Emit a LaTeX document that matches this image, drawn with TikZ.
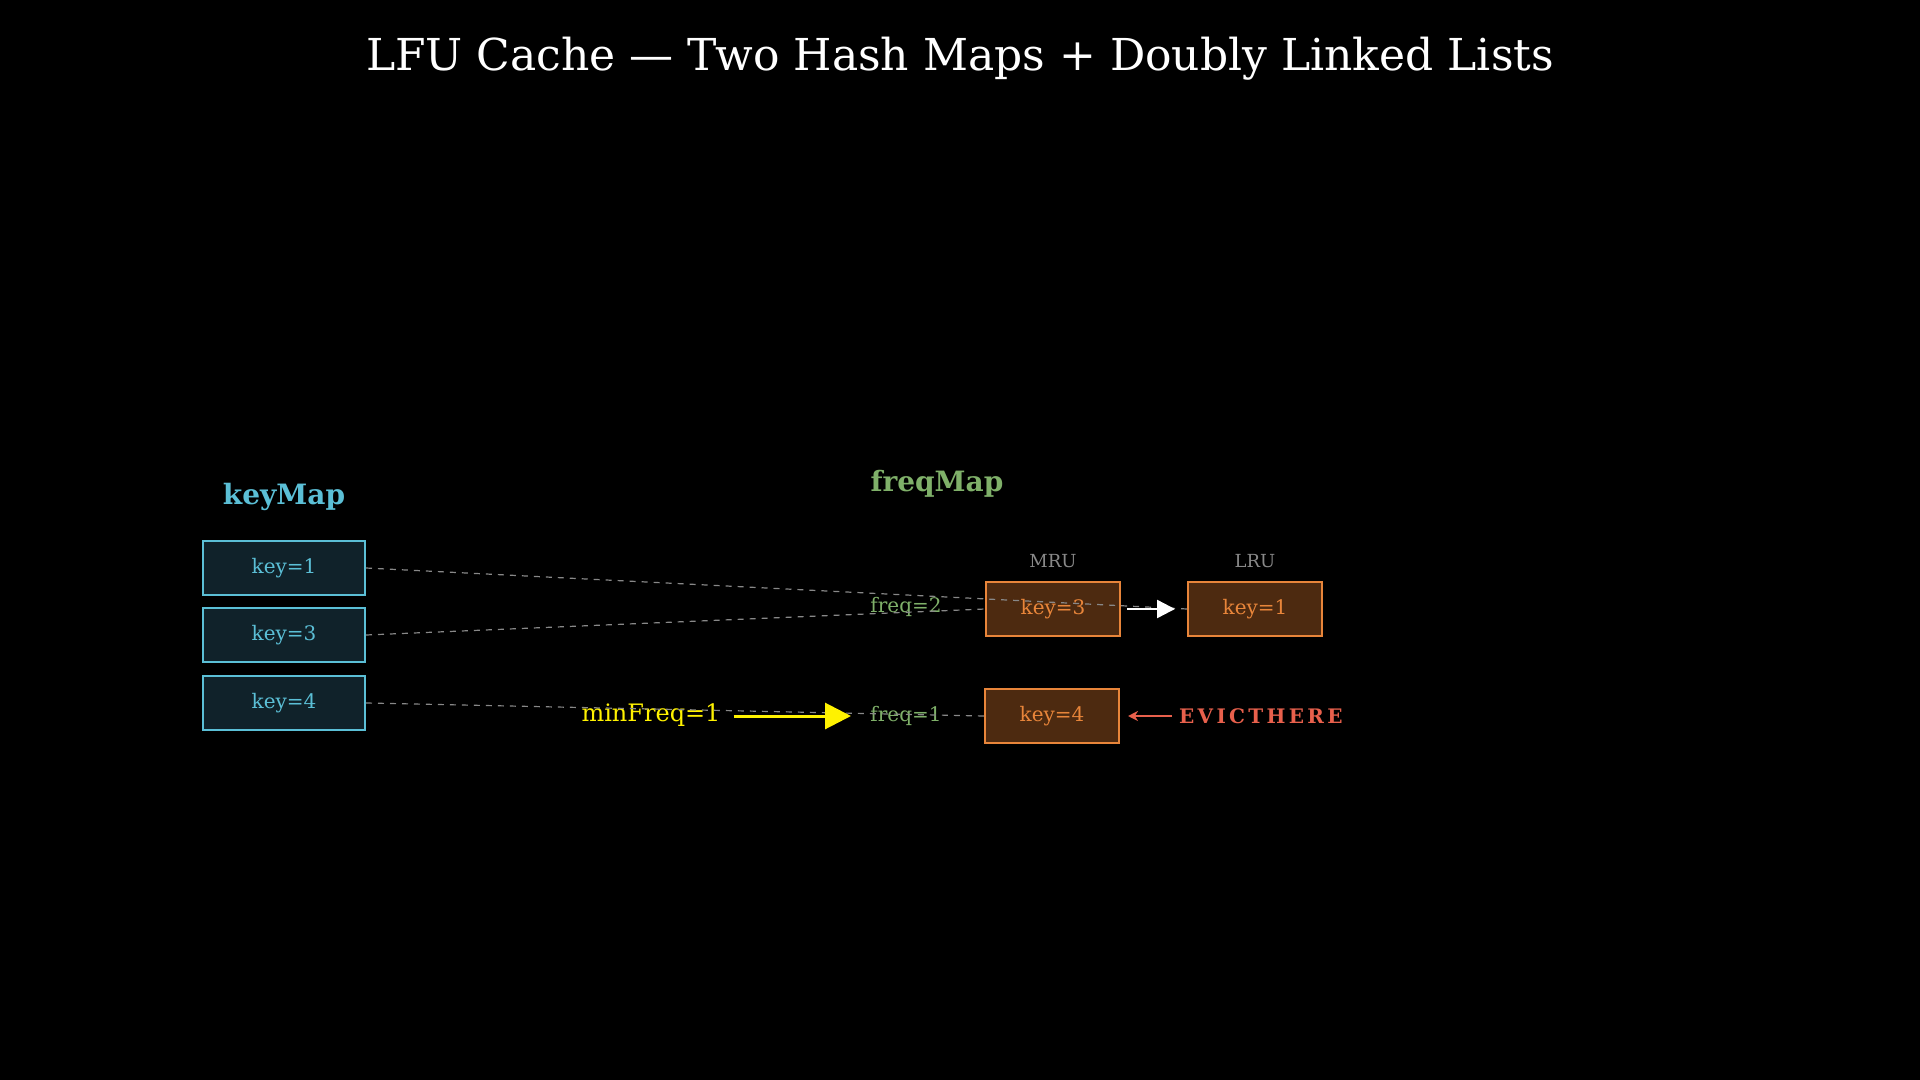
\documentclass[tikz,border=0pt]{standalone}
\usepackage{fontspec}
\setmainfont{DejaVu Serif}
\usetikzlibrary{arrows.meta}
\definecolor{cy}{HTML}{5BBFD6}
\definecolor{cyf}{HTML}{10222A}
\definecolor{og}{HTML}{E8853A}
\definecolor{ogf}{HTML}{4D2A10}
\definecolor{gr}{HTML}{7FB069}
\definecolor{rd}{HTML}{E8604C}
\definecolor{gy}{HTML}{888888}
\tikzset{
 kbox/.style={draw=cy,fill=cyf,line width=1pt,minimum width=81pt,minimum height=27pt,text=cy,font=\fontsize{10}{12}\selectfont},
 obox/.style={draw=og,fill=ogf,line width=1pt,minimum width=67pt,minimum height=27pt,text=og,font=\fontsize{10}{12}\selectfont},
 lnk/.style={draw=gy,dashed,line width=0.6pt},
 lbl/.style={font=\fontsize{10}{12}\selectfont,text=gr},
}
\begin{document}
\begin{tikzpicture}[x=0.5pt,y=-0.5pt]
\fill[black] (0,0) rectangle (1920,1080);
\node[text=white,font=\fontsize{22}{26}\selectfont] (title) at (960,59) {LFU Cache — Two Hash Maps + Doubly Linked Lists};
\node[text=cy,font=\fontsize{14}{16}\selectfont\bfseries] (kmt) at (284,497) {keyMap};
\node[text=gr,font=\fontsize{14}{16}\selectfont\bfseries] (fmt) at (937,484) {freqMap};
\node[kbox] (k1) at (284,568) {key=1};
\node[kbox] (k3) at (284,635) {key=3};
\node[kbox] (k4) at (284,703) {key=4};
\node[obox] (f3) at (1053,609) {key=3};
\node[obox] (f1) at (1255,609) {key=1};
\node[obox] (f4) at (1052,716) {key=4};
\node[text=gy,font=\fontsize{9}{11}\selectfont] (mru) at (1053,561) {MRU};
\node[text=gy,font=\fontsize{9}{11}\selectfont] (lru) at (1255,561) {LRU};
\node[lbl] (fq2) at (906,607) {freq=2};
\node[lbl] (fq1) at (906,716) {freq=1};
\node[text=yellow,font=\fontsize{12}{14}\selectfont] (mf) at (651,715) {minFreq=1};
\node[text=rd,font=\fontsize{10}{12}\selectfont\bfseries,anchor=west] (ev) at (1172,716) {E\,V\,I\,C\,T\,H\,E\,R\,E};
\draw[lnk] (k1.east) -- (f1.west);
\draw[lnk] (k3.east) -- (f3.west);
\draw[lnk] (k4.east) -- (f4.west);
\draw[white,line width=1.2pt,-{Triangle[length=9pt,width=9pt]}] (f3.east)++(6,0) coordinate (a1) -- ([xshift=-6pt]f1.west);
\draw[yellow,line width=1.5pt,-{Triangle[length=13pt,width=13pt]}] (mf.east)++(6,1) coordinate (a2) -- (851,716) coordinate (a3);
\draw[rd,line width=1pt,-{Stealth[length=5pt,width=5pt]}] (ev.west) -- ([xshift=4pt]f4.east);
\end{tikzpicture}
\end{document}
